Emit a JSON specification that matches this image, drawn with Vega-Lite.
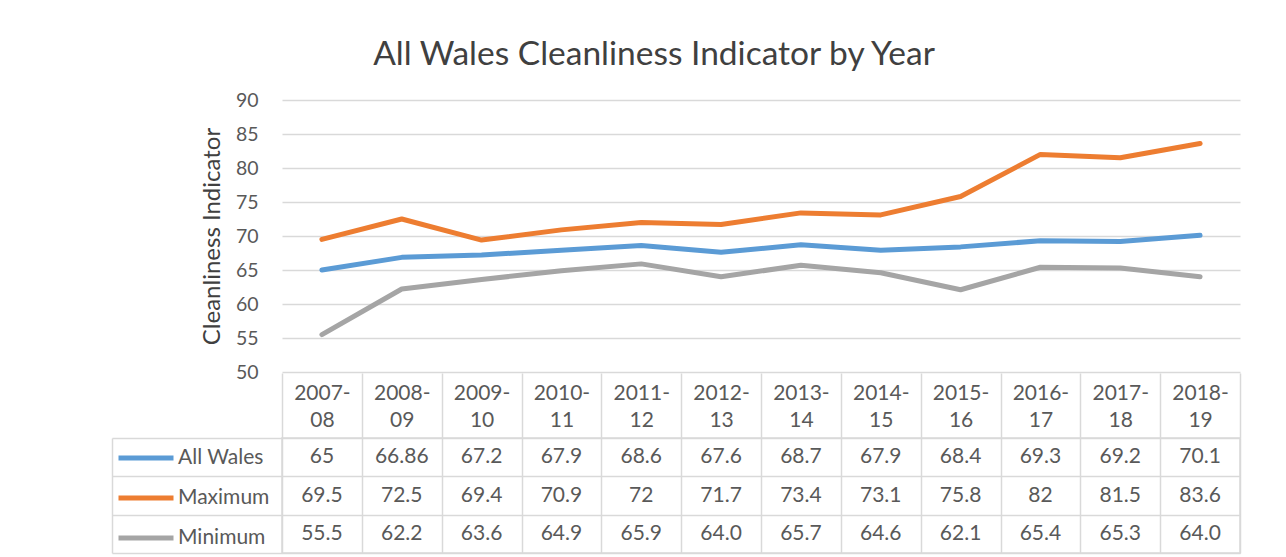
{
  "$schema": "https://vega.github.io/schema/vega-lite/v6.json",
  "autosize": {"type": "none"},
  "padding": {"left": 282, "top": 100, "right": 1004, "bottom": 457},
  "background": "white",
  "bounds": "flush",
  "spacing": 66,
  "title": {"text": "All Wales Cleanliness Indicator by Year", "font": "Lato", "fontSize": 33.5, "fontWeight": "normal", "color": "#404040", "anchor": "middle", "frame": "group", "dx": -107, "baseline": "alphabetic", "offset": -8},
  "config": {"view": {"stroke": null}, "font": "Lato", "style": {"guide-label": {"lineBreak": "\n", "lineHeight": 27}}},
  "data": {"values": [
      {"year": "2007-\n08", "series": "All Wales", "value": 65, "label": "65"},
      {"year": "2008-\n09", "series": "All Wales", "value": 66.86, "label": "66.86"},
      {"year": "2009-\n10", "series": "All Wales", "value": 67.2, "label": "67.2"},
      {"year": "2010-\n11", "series": "All Wales", "value": 67.9, "label": "67.9"},
      {"year": "2011-\n12", "series": "All Wales", "value": 68.6, "label": "68.6"},
      {"year": "2012-\n13", "series": "All Wales", "value": 67.6, "label": "67.6"},
      {"year": "2013-\n14", "series": "All Wales", "value": 68.7, "label": "68.7"},
      {"year": "2014-\n15", "series": "All Wales", "value": 67.9, "label": "67.9"},
      {"year": "2015-\n16", "series": "All Wales", "value": 68.4, "label": "68.4"},
      {"year": "2016-\n17", "series": "All Wales", "value": 69.3, "label": "69.3"},
      {"year": "2017-\n18", "series": "All Wales", "value": 69.2, "label": "69.2"},
      {"year": "2018-\n19", "series": "All Wales", "value": 70.1, "label": "70.1"},
      {"year": "2007-\n08", "series": "Maximum", "value": 69.5, "label": "69.5"},
      {"year": "2008-\n09", "series": "Maximum", "value": 72.5, "label": "72.5"},
      {"year": "2009-\n10", "series": "Maximum", "value": 69.4, "label": "69.4"},
      {"year": "2010-\n11", "series": "Maximum", "value": 70.9, "label": "70.9"},
      {"year": "2011-\n12", "series": "Maximum", "value": 72, "label": "72"},
      {"year": "2012-\n13", "series": "Maximum", "value": 71.7, "label": "71.7"},
      {"year": "2013-\n14", "series": "Maximum", "value": 73.4, "label": "73.4"},
      {"year": "2014-\n15", "series": "Maximum", "value": 73.1, "label": "73.1"},
      {"year": "2015-\n16", "series": "Maximum", "value": 75.8, "label": "75.8"},
      {"year": "2016-\n17", "series": "Maximum", "value": 82, "label": "82"},
      {"year": "2017-\n18", "series": "Maximum", "value": 81.5, "label": "81.5"},
      {"year": "2018-\n19", "series": "Maximum", "value": 83.6, "label": "83.6"},
      {"year": "2007-\n08", "series": "Minimum", "value": 55.5, "label": "55.5"},
      {"year": "2008-\n09", "series": "Minimum", "value": 62.2, "label": "62.2"},
      {"year": "2009-\n10", "series": "Minimum", "value": 63.6, "label": "63.6"},
      {"year": "2010-\n11", "series": "Minimum", "value": 64.9, "label": "64.9"},
      {"year": "2011-\n12", "series": "Minimum", "value": 65.9, "label": "65.9"},
      {"year": "2012-\n13", "series": "Minimum", "value": 64.0, "label": "64.0"},
      {"year": "2013-\n14", "series": "Minimum", "value": 65.7, "label": "65.7"},
      {"year": "2014-\n15", "series": "Minimum", "value": 64.6, "label": "64.6"},
      {"year": "2015-\n16", "series": "Minimum", "value": 62.1, "label": "62.1"},
      {"year": "2016-\n17", "series": "Minimum", "value": 65.4, "label": "65.4"},
      {"year": "2017-\n18", "series": "Minimum", "value": 65.3, "label": "65.3"},
      {"year": "2018-\n19", "series": "Minimum", "value": 64.0, "label": "64.0"}
  ]},
  "vconcat": [
    {
      "width": 958,
      "height": 272,
      "mark": {"type": "line", "strokeWidth": 5, "strokeCap": "round", "strokeJoin": "round"},
      "encoding": {
        "x": {"field": "year", "type": "ordinal", "scale": {"type": "point", "padding": 0.5}, "axis": null},
        "y": {
          "field": "value", "type": "quantitative",
          "scale": {"domain": [50, 90]},
          "axis": {
            "values": [50, 55, 60, 65, 70, 75, 80, 85, 90],
            "title": "Cleanliness Indicator",
            "grid": true, "gridColor": "#d9d9d9", "gridWidth": 1.5,
            "domain": false, "ticks": false,
            "labelFontSize": 19.5, "labelColor": "#595959", "labelPadding": 24,
            "titleFontSize": 24, "titleFontWeight": "normal", "titleColor": "#404040", "titlePadding": 11
          }
        },
        "color": {
          "field": "series", "type": "nominal",
          "scale": {"domain": ["All Wales", "Maximum", "Minimum"], "range": ["#5B9BD5", "#ED7D31", "#A5A5A5"]},
          "legend": {
            "orient": "none", "legendX": -166, "legendY": 328,
            "direction": "vertical", "title": null,
            "symbolType": "stroke", "symbolSize": 3025, "symbolStrokeWidth": 5,
            "labelFontSize": 21, "labelColor": "#595959",
            "labelOffset": 2, "rowPadding": -4, "padding": 0
          }
        }
      }
    },
    {
      "width": 958,
      "height": 115,
      "view": {"stroke": "#d9d9d9", "strokeWidth": 1.5},
      "resolve": {"axis": {"y": "independent"}},
      "layer": [
        {
          "mark": {"type": "text", "fontSize": 21, "color": "#595959"},
          "encoding": {
            "x": {
              "field": "year", "type": "ordinal",
              "scale": {"type": "band", "paddingInner": 0, "paddingOuter": 0},
              "axis": {
                "orient": "top", "title": null, "labelAngle": 0,
                "tickBand": "extent", "tickSize": 65, "tickColor": "#d9d9d9", "tickWidth": 1.5,
                "domain": false, "grid": true, "gridColor": "#d9d9d9", "gridWidth": 1.5,
                "labelFontSize": 21, "labelColor": "#595959",
                "labelBaseline": "middle", "labelPadding": -20
              }
            },
            "y": {
              "field": "series", "type": "nominal",
              "sort": ["All Wales", "Maximum", "Minimum"],
              "scale": {"type": "band", "paddingInner": 0, "paddingOuter": 0},
              "axis": {
                "orient": "left", "title": null, "labels": false,
                "tickSize": 170, "tickBand": "extent", "tickColor": "#d9d9d9", "tickWidth": 1.5,
                "domain": false, "grid": true, "gridColor": "#d9d9d9", "gridWidth": 1.5
              }
            },
            "text": {"field": "label"}
          }
        },
        {
          "mark": {"type": "text", "fontSize": 21},
          "encoding": {
            "x": {"field": "year", "type": "ordinal"},
            "y": {
              "field": "series", "type": "nominal",
              "sort": ["All Wales", "Maximum", "Minimum"],
              "axis": {
                "orient": "left", "title": null, "labels": false, "ticks": false, "grid": false,
                "offset": 170, "domain": true, "domainColor": "#d9d9d9", "domainWidth": 1.5
              }
            },
            "text": {"value": ""}
          }
        }
      ]
    }
  ]
}
